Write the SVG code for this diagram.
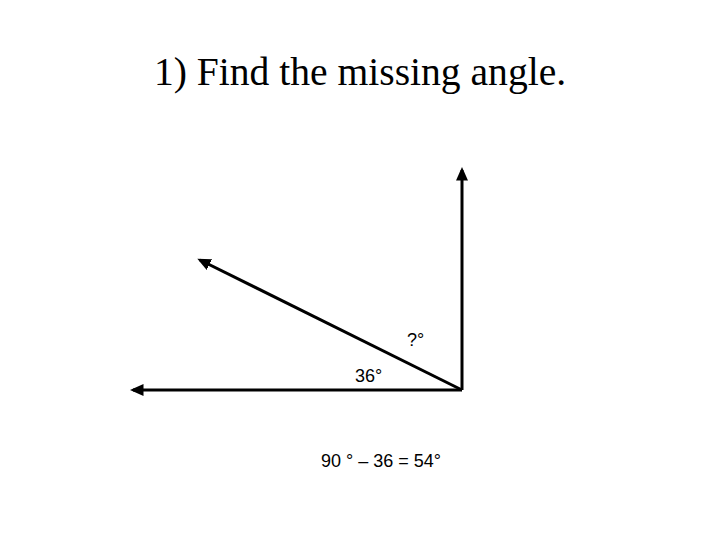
<svg xmlns="http://www.w3.org/2000/svg" width="720" height="540" viewBox="0 0 720 540">
<style>
.title{font-family:"Liberation Serif",serif;font-size:39.6px;fill:#000}
.lbl{font-family:"Liberation Sans",Arial,sans-serif;font-size:18px;fill:#000}
.ray{stroke:#000;stroke-width:3;fill:none;marker-end:url(#ah)}
</style>
<defs>
<marker id="ah" markerWidth="4.5" markerHeight="4" refX="3.5" refY="2" orient="auto" markerUnits="strokeWidth">
<path d="M0,0 L4.5,2 L0,4 Z" fill="#000"/>
</marker>
</defs>
<rect width="720" height="540" fill="#fff"/>
<text class="title" x="360" y="85" text-anchor="middle">1) Find the missing angle.</text>
<g id="connectors">
<line class="ray" x1="462" y1="390" x2="462" y2="170"/>
<line class="ray" x1="462" y1="390" x2="133" y2="390"/>
<line class="ray" x1="462" y1="390" x2="200" y2="260"/>
</g>
<g id="label-unknown"><text class="lbl" x="407" y="346">?°</text></g>
<g id="label-36"><text class="lbl" x="355" y="382">36°</text></g>
<g id="label-solution"><text class="lbl" x="321" y="467">90 ° – 36 = 54°</text></g>
</svg>
